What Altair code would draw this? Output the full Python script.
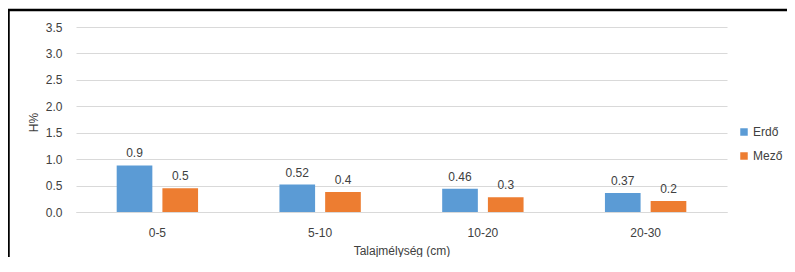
import altair as alt
import pandas as pd

categories = ["0-5", "5-10", "10-20", "20-30"]
series = ["Erdő", "Mező"]
erdo_values = [0.88, 0.52, 0.44, 0.36]
mezo_values = [0.45, 0.38, 0.28, 0.21]
erdo_labels = ["0.9", "0.52", "0.46", "0.37"]
mezo_labels = ["0.5", "0.4", "0.3", "0.2"]
y_ticks = [0, 0.5, 1.0, 1.5, 2.0, 2.5, 3.0, 3.5]

rows = []
for i, c in enumerate(categories):
    rows.append({"depth": c, "series": series[0], "value": erdo_values[i], "label": erdo_labels[i]})
    rows.append({"depth": c, "series": series[1], "value": mezo_values[i], "label": mezo_labels[i]})
df = pd.DataFrame(rows)

font = "Liberation Sans"
text_color = "#404040"
grid_color = "#d9d9d9"

x_enc = alt.X(
    "depth:N",
    sort=categories,
    scale=alt.Scale(paddingInner=0.5, paddingOuter=0.25),
    axis=alt.Axis(
        title="Talajmélység (cm)",
        labelAngle=0,
        ticks=False,
        tickSize=0,
        domainColor=grid_color,
        domainWidth=1,
        labelPadding=15,
        titleY=38,
        titleBaseline="middle",
        grid=False,
    ),
)
xoff_enc = alt.XOffset("series:N", sort=series, scale=alt.Scale(paddingInner=0.22, paddingOuter=0))
y_enc = alt.Y(
    "value:Q",
    scale=alt.Scale(domain=[0, 3.5]),
    axis=alt.Axis(
        values=y_ticks,
        format=".1f",
        title="H%",
        domain=False,
        ticks=False,
        tickSize=0,
        labelPadding=14,
        grid=True,
        gridColor=grid_color,
        titleX=-43,
        titleY=95,
        titleAngle=270,
        titleAlign="center",
        titleBaseline="middle",
    ),
)
color_enc = alt.Color(
    "series:N",
    sort=series,
    scale=alt.Scale(domain=series, range=["#5b9bd5", "#ed7d31"]),
    legend=alt.Legend(
        title=None,
        orient="none",
        legendX=662,
        legendY=99,
        symbolType="square",
        symbolSize=56,
        symbolStrokeWidth=0,
        rowPadding=12,
        labelFontSize=12,
        labelOffset=3,
        labelLimit=300,
        padding=0,
    ),
)

bars = alt.Chart(df).mark_bar().encode(x=x_enc, xOffset=xoff_enc, y=y_enc, color=color_enc)
labels = alt.Chart(df).mark_text(
    baseline="alphabetic", dy=-8, fontSize=12, color=text_color, font=font
).encode(x=x_enc, xOffset=xoff_enc, y=y_enc, text="label:N")

frame_data = alt.Data(values=[{"k": 1}])
top_line = alt.Chart(frame_data).mark_rule(color="black", strokeWidth=2.5).encode(
    x=alt.value(-68), x2=alt.value(711), y=alt.value(-17)
)
left_line = alt.Chart(frame_data).mark_rule(color="black", strokeWidth=2.5).encode(
    x=alt.value(-67.5), y=alt.value(-17), y2=alt.value(230)
)

chart = (
    alt.layer(bars, labels, top_line, left_line)
    .properties(
        width=651,
        height=185,
        padding={"left": 68, "top": 19, "right": 60, "bottom": 45},
        autosize=alt.AutoSizeParams(type="none"),
    )
    .configure_view(stroke=None)
    .configure_axis(
        labelFont=font,
        titleFont=font,
        labelColor=text_color,
        titleColor=text_color,
        labelFontSize=12,
        titleFontSize=12,
        titleFontWeight="normal",
    )
    .configure_legend(labelFont=font, labelColor=text_color)
)

chart.save("out.html", embed_options={"renderer": "svg", "actions": False})
